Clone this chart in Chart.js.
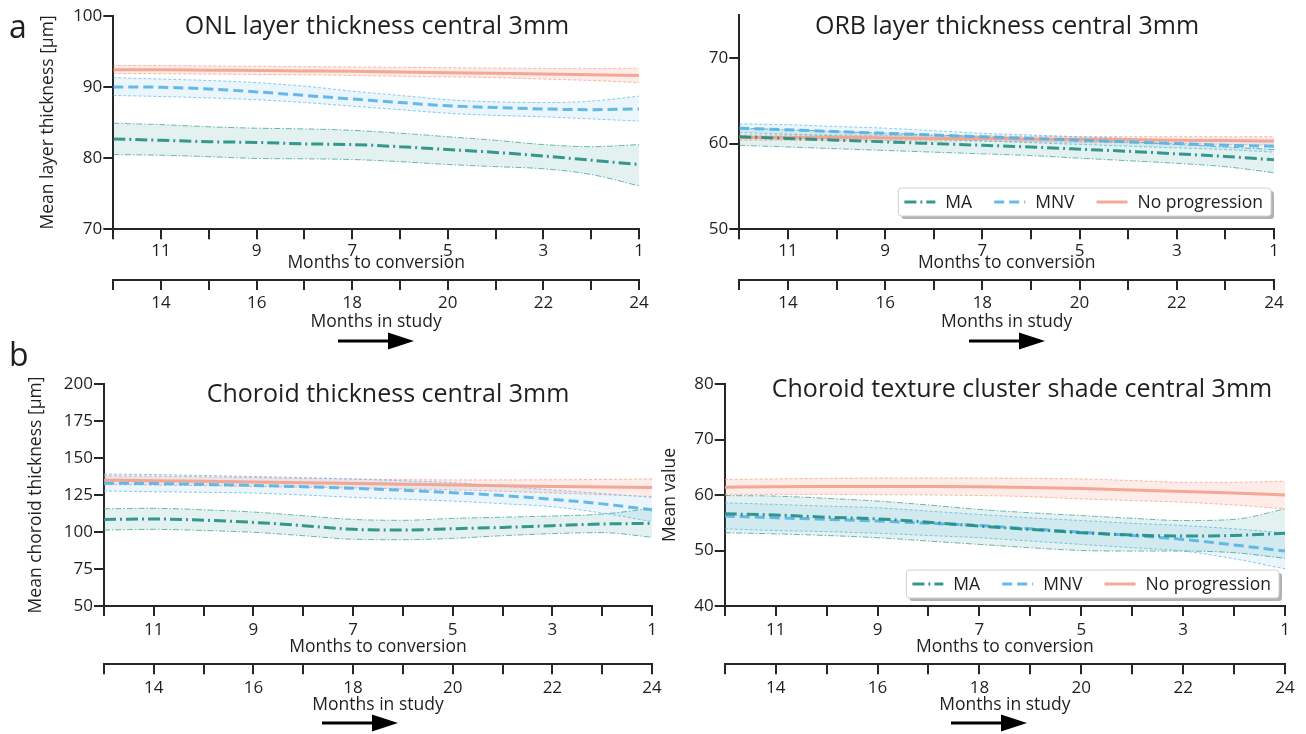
<!DOCTYPE html>
<html>
<head>
<meta charset="utf-8">
<script src="https://cdn.jsdelivr.net/npm/chart.js@4.4.1/dist/chart.umd.min.js"></script>
<style>
body{margin:0;background:#fff;}
#wrap{position:relative;width:1306px;height:734px;background:#fff;}
#wrap canvas{position:absolute;left:0;top:0;}
</style>
</head>
<body>
<div id="wrap">
<canvas id="c1" width="1306" height="734"></canvas>
<canvas id="c2" width="1306" height="734"></canvas>
<canvas id="c3" width="1306" height="734"></canvas>
<canvas id="c4" width="1306" height="734"></canvas>
</div>
<script>
// months in study (x), months to conversion = 25 - x
var monthsInStudy=[13,14,15,16,17,18,19,20,21,22,23,24];

// ONL layer thickness
var onlMA=[82.7,82.5,82.3,82.2,82.0,81.9,81.6,81.2,80.8,80.3,79.7,79.1];
var onlMAlo=[80.5,80.4,80.2,79.95,79.9,79.8,79.5,79.1,78.8,78.5,77.7,76.1];
var onlMAhi=[84.9,84.7,84.4,84.2,84.1,83.9,83.5,83.0,82.5,81.9,81.6,81.9];
var onlMNV=[90.0,89.95,89.7,89.3,88.8,88.3,87.8,87.35,87.1,86.9,86.8,86.9];
var onlMNVlo=[88.8,88.65,88.45,88.2,87.8,87.3,86.8,86.3,86.0,85.8,85.5,85.2];
var onlMNVhi=[91.3,91.1,90.9,90.6,90.1,89.4,88.8,88.2,87.9,87.8,88.0,88.7];
var onlNP=[92.4,92.4,92.35,92.3,92.25,92.2,92.1,92.0,91.9,91.8,91.7,91.6];
var onlNPlo=[91.9,91.85,91.8,91.75,91.7,91.6,91.5,91.4,91.3,91.1,90.9,90.6];
var onlNPhi=[93.0,93.0,92.95,92.9,92.85,92.8,92.75,92.7,92.65,92.6,92.6,92.6];

// ORB layer thickness
var orbMA=[60.8,60.6,60.4,60.2,60.0,59.8,59.6,59.35,59.1,58.8,58.5,58.1];
var orbMAlo=[59.8,59.6,59.4,59.2,59.0,58.8,58.6,58.3,58.0,57.7,57.3,56.6];
var orbMAhi=[61.8,61.6,61.4,61.2,61.0,60.8,60.6,60.4,60.2,59.9,59.6,59.3];
var orbMNV=[61.8,61.6,61.4,61.2,61.0,60.8,60.6,60.4,60.2,60.0,59.8,59.7];
var orbMNVlo=[61.3,61.1,60.9,60.7,60.5,60.3,60.1,59.9,59.7,59.5,59.3,59.0];
var orbMNVhi=[62.3,62.2,62.0,61.8,61.5,61.2,61.0,60.8,60.6,60.4,60.3,60.2];
var orbNP=[60.7,60.7,60.7,60.65,60.6,60.6,60.5,60.5,60.45,60.4,60.35,60.3];
var orbNPlo=[60.4,60.4,60.4,60.35,60.3,60.3,60.2,60.15,60.1,60.0,59.9,59.8];
var orbNPhi=[61.0,61.0,61.0,60.95,60.9,60.9,60.85,60.8,60.8,60.8,60.8,60.8];

// Choroid thickness
var chMA=[108.5,108.8,108.0,106.5,104.3,101.8,101.3,102.2,103.1,104.3,105.4,105.8];
var chMAlo=[101.3,101.8,101.0,99.8,97.5,95.1,94.8,95.7,97.5,98.9,99.6,96.4];
var chMAhi=[115.7,116.0,115.0,113.5,111.0,108.5,107.9,109.2,110.0,110.8,112.1,116.0];
var chMNV=[133.0,132.7,132.2,131.5,130.6,129.5,128.2,126.6,124.6,122.1,119.0,115.0];
var chMNVlo=[127.7,127.2,126.8,126.3,125.0,123.4,122.2,120.9,119.1,117.1,112.8,107.0];
var chMNVhi=[139.2,138.8,138.2,137.5,136.7,135.8,134.6,133.3,131.0,128.4,126.0,123.4];
var chNP=[135.0,134.7,134.3,133.8,133.3,132.8,132.3,131.8,131.3,130.8,130.4,130.0];
var chNPlo=[132.0,131.7,131.3,130.8,130.3,129.8,129.2,128.5,127.5,126.4,125.2,124.0];
var chNPhi=[138.0,137.7,137.3,136.8,136.3,135.8,135.4,135.2,135.2,135.3,135.5,135.8];

// Choroid texture cluster shade
var txMA=[56.6,56.4,56.0,55.7,55.1,54.4,53.8,53.2,52.8,52.6,52.7,53.1];
var txMAlo=[53.2,53.0,52.7,52.3,51.7,51.1,50.5,50.0,49.9,49.9,49.6,48.6];
var txMAhi=[59.9,59.8,59.4,58.9,58.2,57.4,56.8,56.3,55.8,55.4,55.6,57.5];
var txMNV=[56.2,55.9,55.6,55.3,54.9,54.5,53.9,53.3,52.7,52.0,51.0,49.9];
var txMNVlo=[53.9,53.6,53.4,53.1,52.7,52.3,51.7,51.1,50.5,49.9,48.5,46.7];
var txMNVhi=[58.6,58.3,58.0,57.7,57.1,56.5,55.9,55.4,54.9,54.5,53.9,53.2];
var txNP=[61.4,61.5,61.55,61.55,61.55,61.5,61.35,61.15,60.9,60.65,60.35,60.0];
var txNPlo=[60.1,60.1,60.1,60.05,60.0,59.9,59.7,59.3,59.0,58.7,58.2,57.5];
var txNPhi=[62.8,62.9,63.0,63.05,63.05,63.05,63.0,62.9,62.6,62.3,62.3,62.5];

var groupNames={MA:"MA", MNV:"MNV", NP:"No progression"};

var FONT="'Open Sans', 'Noto Sans', sans-serif";
var TXT="#1f1f1f";
var AX="#262626";

var styles={
	MA: {line:"rgba(34,141,131,0.9)", edge:"rgba(60,160,150,0.75)", fill:"rgba(42,157,143,0.13)", dash:[12,4,2,4], edgeDash:[6,2,1.5,2]},
	MNV:{line:"rgba(86,178,230,0.9)", edge:"rgba(110,190,235,0.8)", fill:"rgba(90,180,232,0.13)", dash:[10,5], edgeDash:[3,2]},
	NP: {line:"rgba(243,160,140,0.9)", edge:"rgba(243,160,140,0.75)", fill:"rgba(243,160,140,0.2)", dash:[], edgeDash:[3,2]}
};

Chart.defaults.font.family=FONT;
Chart.defaults.color=TXT;

function pts(vals) {
	return monthsInStudy.map(function(m, i) { return {x:m, y:vals[i]}; });
}

// titles, arrow, panel letter and boxed legend
var decor={
	id:'decor',
	afterDraw:function(chart, args, o) {
		var ctx=chart.ctx;
		ctx.save();
		ctx.fillStyle=TXT;
		if (o.letter) {
			ctx.font="32px "+FONT;
			ctx.textAlign="left";
			ctx.textBaseline="alphabetic";
			ctx.fillText(o.letter, o.letterX, o.letterY);
		}
		ctx.font="25px "+FONT;
		ctx.textAlign="center";
		ctx.textBaseline="middle";
		ctx.fillText(o.title, o.titleX, o.titleY);

		//arrow under "Months in study"
		var ax=o.arrowX, ay=o.arrowY;
		ctx.strokeStyle="#000";
		ctx.lineWidth=3;
		ctx.beginPath();
		ctx.moveTo(ax-38, ay);
		ctx.lineTo(ax+14, ay);
		ctx.stroke();
		ctx.fillStyle="#000";
		ctx.beginPath();
		ctx.moveTo(ax+38, ay);
		ctx.lineTo(ax+12, ay-8.5);
		ctx.lineTo(ax+12, ay+8.5);
		ctx.closePath();
		ctx.fill();

		if (o.legend) {
			var items=chart.data.datasets.slice(0, 3);
			ctx.font="17.5px "+FONT;
			var sw=31, gapT=10, gapE=22, padL=6, padR=8, h=28;
			var w=padL+padR;
			items.forEach(function(d, i) {
				w+=sw+gapT+ctx.measureText(d.label).width+(i<2 ? gapE : 0);
			});
			var x0=o.legendRight-w, y0=o.legendBottom-h;
			ctx.fillStyle="rgba(0,0,0,0.3)";
			ctx.beginPath();
			ctx.roundRect(x0+3, y0+3, w, h, 3);
			ctx.fill();
			ctx.fillStyle="#fff";
			ctx.strokeStyle="#d0d0d0";
			ctx.lineWidth=1;
			ctx.beginPath();
			ctx.roundRect(x0, y0, w, h, 3);
			ctx.fill();
			ctx.stroke();
			var x=x0+padL, cy=y0+h/2;
			items.forEach(function(d) {
				ctx.save();
				ctx.strokeStyle=d.borderColor;
				ctx.lineWidth=3;
				ctx.setLineDash(d.borderDash || []);
				ctx.beginPath();
				ctx.moveTo(x, cy);
				ctx.lineTo(x+sw, cy);
				ctx.stroke();
				ctx.restore();
				x+=sw+gapT;
				ctx.fillStyle=TXT;
				ctx.textAlign="left";
				ctx.textBaseline="middle";
				ctx.fillText(d.label, x, cy+1);
				x+=ctx.measureText(d.label).width+gapE;
			});
		}
		ctx.restore();
	}
};

function makeChart(id, s, cfg) {
	var ds=[];
	['MA','MNV','NP'].forEach(function(k) {
		ds.push({label:groupNames[k], data:pts(s[k][0]), borderColor:styles[k].line, borderWidth:3,
			borderDash:styles[k].dash, pointRadius:0, fill:false, cubicInterpolationMode:'monotone',
			xAxisID:'x', yAxisID:'y'});
	});
	['MA','MNV','NP'].forEach(function(k) {
		ds.push({label:k+" upper", data:pts(s[k][2]), borderColor:styles[k].edge, borderWidth:1,
			borderDash:styles[k].edgeDash, backgroundColor:styles[k].fill, pointRadius:0, fill:'+1',
			cubicInterpolationMode:'monotone', xAxisID:'x', yAxisID:'y'});
		ds.push({label:k+" lower", data:pts(s[k][1]), borderColor:styles[k].edge, borderWidth:1,
			borderDash:styles[k].edgeDash, pointRadius:0, fill:false,
			cubicInterpolationMode:'monotone', xAxisID:'x', yAxisID:'y'});
	});

	var grid={drawOnChartArea:false, drawTicks:true, tickLength:10, lineWidth:2, color:AX};
	var border={display:true, color:AX, width:2};
	var scales={
		y:{position:'left', min:cfg.yMin, max:cfg.yMax,
			ticks:{stepSize:cfg.yStep, padding:1, color:TXT, font:{size:17}},
			afterBuildTicks:function(sc) {
				sc.ticks=sc.ticks.filter(function(t) { return (t.value-cfg.yMin)%cfg.yStep===0; });
			},
			grid:grid, border:border,
			title:{display:!!cfg.yTitle, text:cfg.yTitle || '', font:{size:17.5}, color:TXT, padding:0},
			afterFit:function(sc) { sc.width=cfg.yW; }
		},
		xConv:{axis:'x', type:'linear', position:'bottom', weight:0, min:13, max:24,
			ticks:{stepSize:1, autoSkip:false, maxRotation:0, padding:cfg.tp1, color:TXT, font:{size:17},
				callback:function(v) { return v%2===0 ? String(25-v) : ''; }},
			grid:grid, border:border,
			title:{display:true, text:'Months to conversion', font:{size:17.5}, color:TXT, padding:{top:0, bottom:cfg.tb1}},
			afterFit:function(sc) { sc.height=cfg.h1; }
		},
		x:{axis:'x', type:'linear', position:'bottom', weight:1, min:13, max:24,
			ticks:{stepSize:1, autoSkip:false, maxRotation:0, padding:cfg.tp2, color:TXT, font:{size:17},
				callback:function(v) { return v%2===0 ? String(v) : ''; }},
			grid:grid, border:border,
			title:{display:true, text:'Months in study', font:{size:17.5}, color:TXT, padding:0},
			afterFit:function(sc) { sc.height=cfg.h2; }
		}
	};

	return new Chart(document.getElementById(id).getContext('2d'), {
		type:'line',
		data:{datasets:ds},
		options:{
			responsive:false, animation:false, devicePixelRatio:1,
			layout:{padding:cfg.pad},
			plugins:{legend:{display:false}, tooltip:{enabled:false}, decor:cfg.decor},
			scales:scales
		},
		plugins:[decor]
	});
}

makeChart('c1', {MA:[onlMA,onlMAlo,onlMAhi], MNV:[onlMNV,onlMNVlo,onlMNVhi], NP:[onlNP,onlNPlo,onlNPhi]}, {
	yMin:70, yMax:100, yStep:10, yTitle:'Mean layer thickness [\u03bcm]', yW:75.5,
	h1:50.7, tb1:6.2, tp1:2, h2:52.7, tp2:3,
	pad:{left:37.8, right:667, top:15.7, bottom:401.3},
	decor:{title:'ONL layer thickness central 3mm', titleX:377, titleY:27, arrowX:376, arrowY:341,
		letter:'a', letterX:9, letterY:38, legend:false}
});

makeChart('c2', {MA:[orbMA,orbMAlo,orbMAhi], MNV:[orbMNV,orbMNVlo,orbMNVhi], NP:[orbNP,orbNPlo,orbNPhi]}, {
	yMin:50, yMax:75, yStep:10, yTitle:'', yW:50,
	h1:50.7, tb1:6.2, tp1:2, h2:52.7, tp2:3,
	pad:{left:689.3, right:32, top:15, bottom:401.3},
	decor:{title:'ORB layer thickness central 3mm', titleX:1007, titleY:27, arrowX:1007, arrowY:341,
		letter:'', legend:true, legendRight:1271, legendBottom:216}
});

makeChart('c3', {MA:[chMA,chMAlo,chMAhi], MNV:[chMNV,chMNVlo,chMNVhi], NP:[chNP,chNPlo,chNPhi]}, {
	yMin:50, yMax:200, yStep:25, yTitle:'Mean choroid thickness [\u03bcm]', yW:78.2,
	h1:58.3, tb1:7.1, tp1:4, h2:51.6, tp2:4,
	pad:{left:25.8, right:654, top:384, bottom:18.1},
	decor:{title:'Choroid thickness central 3mm', titleX:388, titleY:395, arrowX:360, arrowY:723,
		letter:'b', letterX:9, letterY:366, legend:false}
});

makeChart('c4', {MA:[txMA,txMAlo,txMAhi], MNV:[txMNV,txMNVlo,txMNVhi], NP:[txNP,txNPlo,txNPhi]}, {
	yMin:40, yMax:80, yStep:10, yTitle:'Mean value', yW:64.9,
	h1:58.3, tb1:7.1, tp1:4, h2:51.6, tp2:4,
	pad:{left:659.8, right:21, top:384, bottom:18.1},
	decor:{title:'Choroid texture cluster shade central 3mm', titleX:1022, titleY:390, arrowX:989, arrowY:723,
		letter:'', legend:true, legendRight:1279, legendBottom:598}
});
</script>
</body>
</html>
